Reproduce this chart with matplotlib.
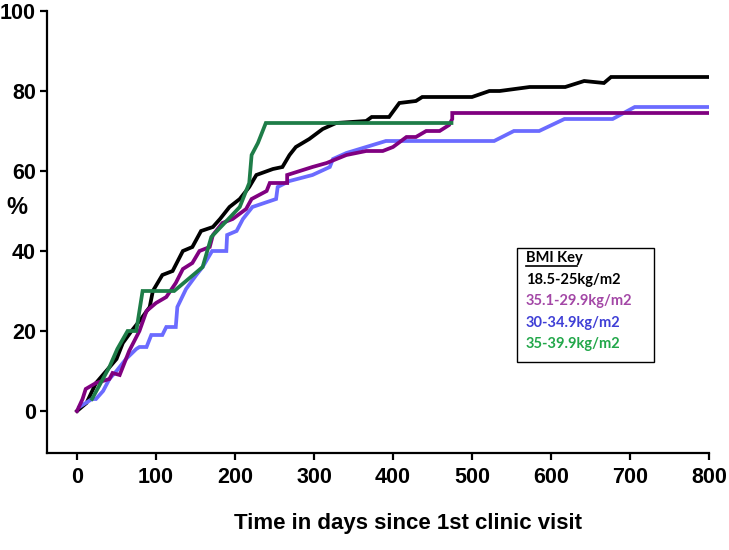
import matplotlib
matplotlib.use("Agg")
import matplotlib.pyplot as plt
from matplotlib.patches import Rectangle

# Cumulative % over time (days since 1st clinic visit)
days_normal = [0, 3, 12, 24, 37, 50, 58, 69, 81, 92, 96, 108, 121, 134, 146, 157,
               172, 181, 193, 206, 218, 227, 248, 260, 269, 277, 294, 311, 328, 366,
               373, 395, 408, 429, 437, 500, 522, 535, 573, 618, 642, 667, 676, 800]
pct_normal = [0, 0.5, 2, 7, 10, 13, 17, 20, 23, 26, 30, 34, 35, 40, 41, 45,
              46, 48, 51, 53, 56, 59, 60.5, 61, 64, 66, 68, 70.5, 72, 72.5,
              73.5, 73.5, 77, 77.5, 78.5, 78.5, 80, 80, 81, 81, 82.5, 82, 83.5, 83.5]

days_over = [0, 7, 11, 24, 41, 45, 54, 58, 66, 79, 88, 100, 113, 125, 134, 146,
             155, 168, 172, 184, 197, 214, 221, 240, 244, 266, 266, 298, 316, 341,
             366, 387, 400, 417, 429, 442, 459, 471, 475, 475, 800]
pct_over = [0, 3, 5.5, 7, 8, 9.5, 9, 11, 15, 20, 25, 27, 28.5, 32, 35.5, 37,
            40, 41, 44, 47, 48, 50.5, 53, 55, 57, 57, 59, 61, 62, 64,
            65, 65, 66, 68.5, 68.5, 70, 70, 71.5, 73, 74.5, 74.5]

days_obese1 = [3, 19, 24, 33, 41, 50, 62, 75, 79, 88, 94, 108, 113, 125, 127, 138,
               151, 159, 171, 189, 190, 202, 210, 222, 252, 254, 269, 298, 320, 324,
               341, 366, 391, 528, 553, 585, 617, 678, 706, 800]
pct_obese1 = [1, 3, 3, 5, 8, 10, 13, 15.5, 16, 16, 19, 19, 21, 21, 26, 30.5,
              34, 36, 40, 40, 44, 45, 48, 51, 53, 56, 57.5, 59, 61, 63,
              64.5, 66, 67.5, 67.5, 70, 70, 73, 73, 76, 76]

days_obese2 = [19, 41, 51, 64, 75, 83, 123, 159, 170, 206, 218, 221, 229, 239, 474]
pct_obese2 = [3, 11, 15.5, 20, 20, 30, 30, 36, 43.5, 51, 57, 64, 67, 72, 72]

key_labels = ["18.5-25kg/m2", "35.1-29.9kg/m2", "30-34.9kg/m2", "35-39.9kg/m2"]
line_colors = ["black", "#800080", "#6B6BFF", "#1E7D48"]
key_colors = ["black", "#A347A6", "#3F3FD6", "#22A74A"]

num_font = ["Liberation Sans", "DejaVu Sans"]

fig = plt.figure(figsize=(7.29, 5.5), dpi=100)
ax = fig.add_axes([47 / 729, 1 - 453 / 550, (709 - 47) / 729, (453 - 11) / 550])

series = [(days_normal, pct_normal), (days_obese1, pct_obese1),
          (days_over, pct_over), (days_obese2, pct_obese2)]
colors = [line_colors[0], line_colors[2], line_colors[1], line_colors[3]]
for (x, y), c in zip(series, colors):
    ax.plot(x, y, color=c, lw=2.7, solid_joinstyle="miter")

ax.set_xlim(-38, 800)
ax.set_ylim(-10.5, 100)
ax.set_xticks(range(0, 801, 100))
ax.set_yticks(range(0, 101, 20))
for s in ["top", "right"]:
    ax.spines[s].set_visible(False)
for s in ["left", "bottom"]:
    ax.spines[s].set_linewidth(1.6)
ax.tick_params(axis="x", width=1.6, length=5, pad=5)
ax.tick_params(axis="y", width=1.6, length=5, pad=3)
for lab in ax.get_xticklabels() + ax.get_yticklabels():
    lab.set_family(num_font)
    lab.set_fontweight("bold")
    lab.set_fontsize(15.5)

fig.text(408 / 729, 1 - 524 / 550, "Time in days since 1st clinic visit",
         ha="center", va="center", family=num_font, fontweight="bold", fontsize=16)
fig.text(17 / 729, 1 - 207 / 550, "%", ha="center", va="center",
         family=num_font, fontweight="bold", fontsize=17)

# key box
fig.patches.append(Rectangle((517 / 729, 1 - 362 / 550), (654 - 517) / 729, (362 - 248) / 550,
                             transform=fig.transFigure, fill=False, ec="black", lw=1.0))
key_font = ["Lato", "DejaVu Sans"]
fig.text(526 / 729, 1 - 258 / 550, "BMI Key", ha="left", va="center",
         family=key_font, fontweight="bold", fontsize=10.5)
fig.add_artist(plt.Line2D([526 / 729, 577 / 729], [1 - 266 / 550, 1 - 266 / 550],
                          color="black", lw=1.2, transform=fig.transFigure))
for i, (lab, c) in enumerate(zip(key_labels, key_colors)):
    fig.text(526 / 729, 1 - (280 + 21.4 * i) / 550, lab, ha="left", va="center",
             family=key_font, fontweight="bold", fontsize=10.5, color=c)

fig.savefig("out.png", dpi=100)
